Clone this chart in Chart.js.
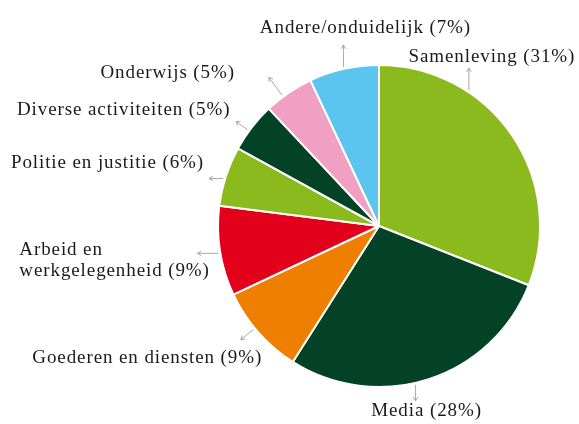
<!DOCTYPE html>
<html>
<head>
<meta charset="utf-8">
<script src="https://cdn.jsdelivr.net/npm/chart.js@4.4.1/dist/chart.umd.min.js"></script>
<style>
html,body{margin:0;padding:0;background:#fff;}
#wrap{position:relative;width:579px;height:424px;}
</style>
</head>
<body>
<div id="wrap"><canvas id="c" width="579" height="424"></canvas></div>
<script>
const categories = ["Samenleving","Media","Goederen en diensten","Arbeid en werkgelegenheid","Politie en justitie","Diverse activiteiten","Onderwijs","Andere/onduidelijk"];
const values = [31, 28, 9, 9, 6, 5, 5, 7];
const labelLines = [["Samenleving (31%)"],["Media (28%)"],["Goederen en diensten (9%)"],["Arbeid en","werkgelegenheid (9%)"],["Politie en justitie (6%)"],["Diverse activiteiten (5%)"],["Onderwijs (5%)"],["Andere/onduidelijk (7%)"]];
const colors = ["#8aba1e","#034227","#ee7f00","#e2001a","#8aba1e","#034227","#f0a1c3","#5bc5f0"];

// annotation layout (style): where along the slice the arrow sits, its direction, length, label offset
const annot = [
  {f:0.30, dir:"up",     len:22, dx:23,   dy:-28, align:"center"},
  {f:0.55, dir:"down",   len:16, dx:11,   dy:31,  align:"center"},
  {f:0.56, dir:"radial", len:16, dx:9,    dy:33,  align:"right"},
  {f:0.48, dir:"left",   len:21, dx:-199, dy:2,   align:"left"},
  {f:0.45, dir:"left",   len:14, dx:-19,  dy:-11, align:"right"},
  {f:0.41, dir:"radial", len:14, dx:-17,  dy:-15, align:"right"},
  {f:0.37, dir:"radial", len:22, dx:-47,  dy:-17, align:"right"},
  {f:0.50, dir:"up",     len:22, dx:22,   dy:-34, align:"center"}
];

const labelPlugin = {
  id: "arrowLabels",
  afterDatasetsDraw(chart) {
    const ctx = chart.ctx;
    const meta = chart.getDatasetMeta(0);
    ctx.save();
    meta.data.forEach((arc, i) => {
      const p = arc.getProps(["x","y","startAngle","endAngle","outerRadius"], true);
      const a = annot[i];
      const ang = p.startAngle + a.f * (p.endAngle - p.startAngle);
      const r = p.outerRadius + 2;
      const sx = p.x + Math.cos(ang) * r;
      const sy = p.y + Math.sin(ang) * r;
      let ux, uy;
      if (a.dir === "up") { ux = 0; uy = -1; }
      else if (a.dir === "down") { ux = 0; uy = 1; }
      else if (a.dir === "left") { ux = -1; uy = 0; }
      else { ux = Math.cos(ang); uy = Math.sin(ang); }
      const tx = sx + ux * a.len, ty = sy + uy * a.len;
      ctx.strokeStyle = "#a8a8a8";
      ctx.lineWidth = 1;
      ctx.beginPath();
      ctx.moveTo(sx, sy); ctx.lineTo(tx, ty);
      const h = 4.5, w = 0.55;
      const bx = -ux, by = -uy;
      const cw = Math.cos(w), sw = Math.sin(w);
      ctx.moveTo(tx + (bx*cw - by*sw)*h, ty + (bx*sw + by*cw)*h);
      ctx.lineTo(tx, ty);
      ctx.lineTo(tx + (bx*cw + by*sw)*h, ty + (-bx*sw + by*cw)*h);
      ctx.stroke();
      ctx.fillStyle = "#1a1a1a";
      ctx.font = "19px 'Liberation Serif', 'Times New Roman', serif";
      try { ctx.letterSpacing = "0.9px"; } catch (e) {}
      ctx.textAlign = a.align;
      ctx.textBaseline = "alphabetic";
      labelLines[i].forEach((line, k) => {
        ctx.fillText(line, sx + a.dx, sy + a.dy + k * 21);
      });
    });
    ctx.restore();
  }
};

new Chart(document.getElementById("c"), {
  type: "pie",
  data: {
    labels: categories,
    datasets: [{
      data: values,
      backgroundColor: colors,
      borderColor: "#ffffff",
      borderWidth: 2,
      hoverOffset: 0
    }]
  },
  options: {
    responsive: false,
    animation: false,
    layout: { padding: { top: 64, bottom: 36, left: 179, right: 0 } },
    plugins: { legend: { display: false }, tooltip: { enabled: false } }
  },
  plugins: [labelPlugin]
});
</script>
</body>
</html>
